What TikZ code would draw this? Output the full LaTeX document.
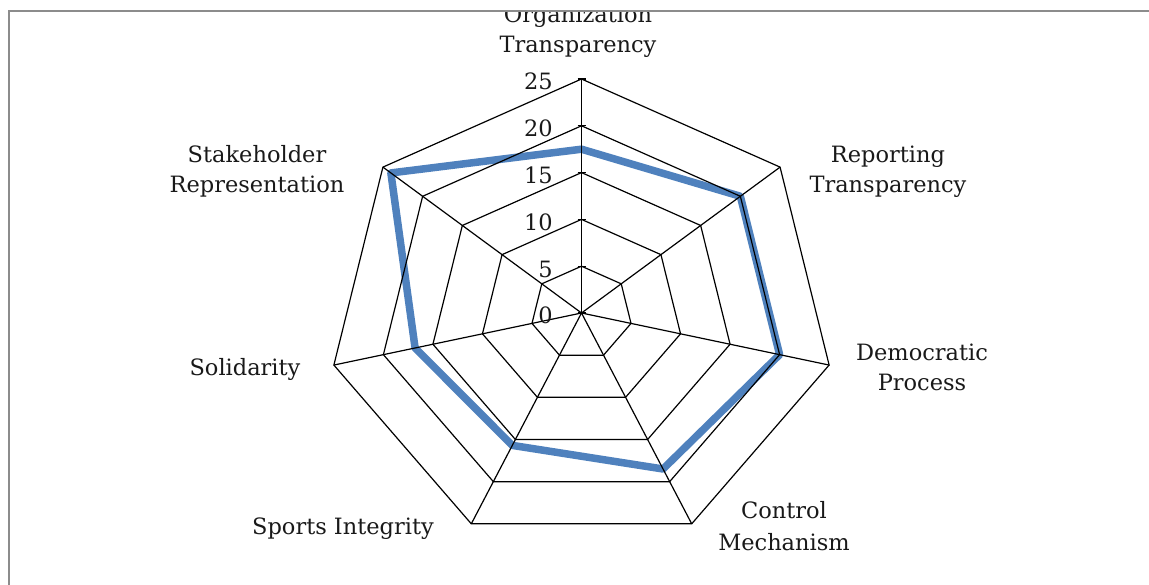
\documentclass[tikz,border=0pt]{standalone}
\usepackage{fontspec}
\setmainfont{DejaVu Serif}
\definecolor{serieblue}{RGB}{79,129,189}
\definecolor{framegray}{RGB}{140,140,140}
\begin{document}
\begin{tikzpicture}[x=1pt,y=-1pt,
  lbl/.style={font=\fontsize{22.5}{26}\selectfont, text=black!90, inner sep=0pt, anchor=base},
  gridline/.style={black, line width=1.2pt},
  series/.style={draw=serieblue, line width=7.5pt, line join=round}]
\useasboundingbox (0,0) rectangle (1149,585);
\clip (0,0) rectangle (1149,585);
\def\cx{581.5}\def\cy{313}\def\sx{10.16}\def\sy{9.36}
\coordinate (O) at (\cx,\cy);
% data series
\foreach \v/\i in {17.5/0,20/1,20/2,18.5/3,15.7/4,16.8/5,24/6}
  \coordinate (s\i) at ({\cx+\sx*\v*cos(90-360/7*\i)},{\cy-\sy*\v*sin(90-360/7*\i)});
\draw[series] (s0)--(s1)--(s2)--(s3)--(s4)--(s5)--(s6)--cycle;
% grid rings
\foreach \r in {5,10,15,20,25}{
  \foreach \i in {0,...,6}
    \coordinate (g\r-\i) at ({\cx+\sx*\r*cos(90-360/7*\i)},{\cy-\sy*\r*sin(90-360/7*\i)});
  \draw[gridline] (g\r-0)--(g\r-1)--(g\r-2)--(g\r-3)--(g\r-4)--(g\r-5)--(g\r-6)--cycle;
}
% spokes
\foreach \i in {0,...,6}
  \draw[gridline] (O) -- (g25-\i);
% ticks and tick labels
\foreach \r in {0,5,10,15,20,25}{
  \coordinate (tk\r) at (\cx,{\cy-\sy*\r});
  \draw[gridline] ([xshift=-4pt]tk\r) -- ([xshift=4pt]tk\r);
  \node[lbl, anchor=base east] (t\r) at (553,{\cy-\sy*\r+11}) {\r};
}
% axis labels
\node[lbl] (org1) at (578,23) {Organization};
\node[lbl] (org2) at (578,53) {Transparency};
\node[lbl] (rep1) at (888,163) {Reporting};
\node[lbl] (rep2) at (888,193) {Transparency};
\node[lbl] (dem1) at (922,360) {Democratic};
\node[lbl] (dem2) at (922,390) {Process};
\node[lbl] (con1) at (784,518) {Control};
\node[lbl] (con2) at (784,550) {Mechanism};
\node[lbl] (spo) at (343,534) {Sports Integrity};
\node[lbl] (sol) at (245,376) {Solidarity};
\node[lbl] (sta1) at (257,163) {Stakeholder};
\node[lbl] (sta2) at (257,193) {Representation};
% frame (chart area clipped at its top edge)
\fill[white] (0,0) rectangle (1149,11);
\draw[framegray, line width=1.5pt] (9,600) -- (9,11) -- (1160,11);
\end{tikzpicture}
\end{document}
